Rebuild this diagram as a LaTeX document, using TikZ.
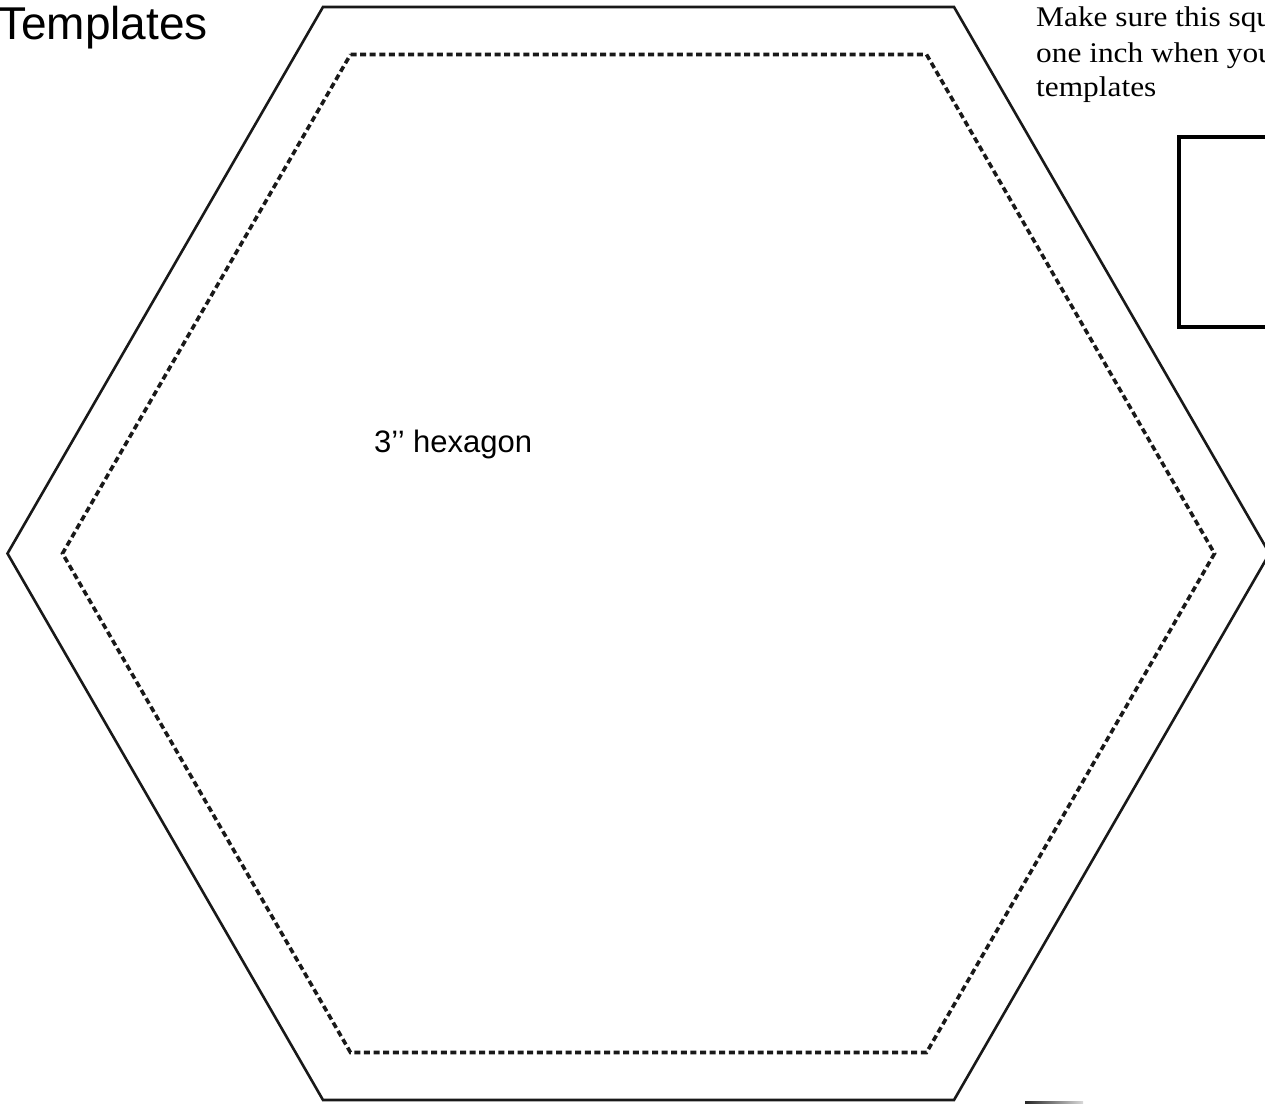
\documentclass[tikz,border=0pt]{standalone}
\usepackage{fontspec}
\setmainfont{Liberation Serif}
\newfontfamily\hsans{Liberation Sans}
\newfontfamily\hserif[FakeStretch=1.1]{Liberation Serif}
\tikzset{
  outerhex/.style={draw=black!90, line width=2.6pt, line join=miter},
  innerhex/.style={draw=black!90, line width=3.6pt, dash pattern=on 6pt off 3.6pt},
  sqbox/.style={draw=black, line width=3.4pt},
  lbl/.style={inner sep=0pt, anchor=base west}
}
\begin{document}
\begin{tikzpicture}[x=1pt,y=1pt]
\useasboundingbox (0,0) rectangle (1265,1103);
\fill[white] (0,0) rectangle (1265,1103);
\clip (0,0) rectangle (1265,1103);
% outer hexagon (side 631)
\draw[outerhex] (323,1096) -- (954,1096) -- (1269.5,549.5) -- (954,3) -- (323,3) -- (7.5,549.5) -- cycle;
% inner dashed hexagon (side 576)
\draw[innerhex] (350.5,1048.5) -- (926.5,1048.5) -- (1214.5,549.5) -- (926.5,50.5) -- (350.5,50.5) -- (62.5,549.5) -- cycle;
% one inch square
\draw[sqbox] (1179,966) rectangle (1372,776);
% texts
\node[lbl] (title) at (-2,1063) {\hsans\fontsize{46}{52}\selectfont Templates};
\node[lbl] (hexlbl) at (374,650) {\hsans\fontsize{31}{36}\selectfont 3’’ hexagon};
\node[lbl] (l1) at (1036,1076) {\hserif\fontsize{28.5}{36}\selectfont Make sure this square is};
\node[lbl] (l2) at (1036,1040) {\hserif\fontsize{28.5}{36}\selectfont one inch when you print};
\node[lbl] (l3) at (1036,1006) {\hserif\fontsize{28.5}{36}\selectfont templates};
% small mark at bottom
\shade[left color=black!85, right color=black!15] (1025,0) rectangle (1083,2);
\end{tikzpicture}
\end{document}
